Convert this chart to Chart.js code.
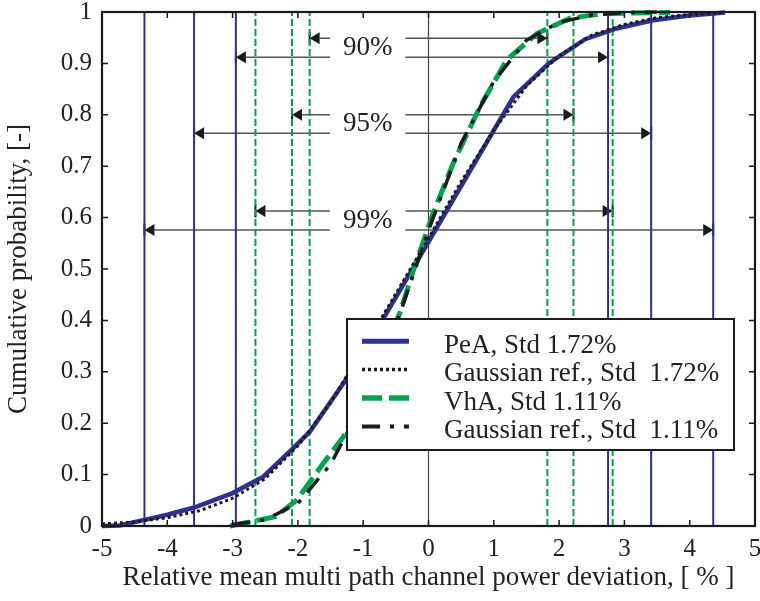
<!DOCTYPE html>
<html>
<head>
<meta charset="utf-8">
<script src="https://cdn.jsdelivr.net/npm/chart.js@4.4.0/dist/chart.umd.min.js"></script>
<style>
html, body { margin: 0; padding: 0; background: #fff; }
canvas { display: block; }
</style>
</head>
<body>
<canvas id="cdfChart" width="760" height="601"></canvas>
<script>
// tick values
var xTicks = [-5, -4, -3, -2, -1, 0, 1, 2, 3, 4, 5];
var yTicks = [0, 0.1, 0.2, 0.3, 0.4, 0.5, 0.6, 0.7, 0.8, 0.9, 1];

// PeA, measured cdf
var peaX = [-5, -4.73, -4.35, -4.0, -3.59, -3.0, -2.53, -2.1, -1.82, -1.3, -0.69, 0, 1.3, 1.84, 2.4, 2.88, 3.44, 4.0, 4.54];
var peaY = [0, 0.001, 0.012, 0.022, 0.036, 0.064, 0.096, 0.148, 0.183, 0.278, 0.404, 0.553, 0.835, 0.9, 0.947, 0.968, 0.984, 0.993, 0.999];

// Gaussian reference, std 1.72
var gaussPeaX = [-5, -4.5, -4, -3.5, -3, -2.5, -2, -1.5, -1, -0.5, 0, 0.5, 1, 1.5, 2, 2.5, 3, 3.5, 4, 4.54];
var gaussPeaY = [0.004, 0.008, 0.016, 0.03, 0.054, 0.092, 0.156, 0.24, 0.345, 0.452, 0.56, 0.67, 0.77, 0.856, 0.915, 0.955, 0.976, 0.989, 0.995, 0.999];

// VhA, measured cdf
var vhaX = [-3.04, -2.65, -2.35, -2.02, -1.61, -1.3, -0.44, -0.23, 0.07, 0.38, 0.79, 1.2, 1.66, 2.17, 2.68, 3.7];
var vhaY = [0, 0.01, 0.018, 0.05, 0.122, 0.174, 0.414, 0.498, 0.608, 0.706, 0.816, 0.907, 0.958, 0.988, 0.997, 0.999];

// Gaussian reference, std 1.11
var gaussVhaX = [-3.0, -2.5, -2.0, -1.5, -1.0, -0.5, 0, 0.5, 1.0, 1.5, 2.0, 2.5, 3.0, 3.5];
var gaussVhaY = [0.003, 0.012, 0.044, 0.12, 0.24, 0.39, 0.575, 0.745, 0.865, 0.945, 0.98, 0.994, 0.999, 1.0];

// confidence interval limits
var intervalLabels = ['90%', '95%', '99%'];
var vhaLow = [-1.82, -2.09, -2.65];
var vhaHigh = [1.82, 2.22, 2.82];
var peaLow = [-2.95, -3.59, -4.35];
var peaHigh = [2.75, 3.41, 4.36];
var vhaArrowY = [0.949, 0.800, 0.613];
var peaArrowY = [0.912, 0.764, 0.576];
var labelX = -0.93;

var legendLabels = ['PeA, Std 1.72%', 'Gaussian ref., Std  1.72%', 'VhA, Std 1.11%', 'Gaussian ref., Std  1.11%'];

var BLUE = '#2e3192';
var GREEN = '#00a34e';
var BLACK = '#1c1c1c';
var SERIF = "'Liberation Serif', 'DejaVu Serif', serif";

function pts(xs, ys) {
    return xs.map(function (x, i) { return { x: x, y: ys[i] }; });
}

function vline(x, color, dash) {
    return {
        data: [{ x: x, y: 0 }, { x: x, y: 1 }],
        borderColor: color,
        borderWidth: 2,
        borderDash: dash,
        showLine: true,
        pointRadius: 0,
        order: 10
    };
}

var curves = [
    { label: legendLabels[0], data: pts(peaX, peaY), borderColor: BLUE, borderWidth: 4.5, borderDash: [], order: 3 },
    { label: legendLabels[1], data: pts(gaussPeaX, gaussPeaY), borderColor: BLACK, borderWidth: 3, borderDash: [3, 3], order: 1 },
    { label: legendLabels[2], data: pts(vhaX, vhaY), borderColor: GREEN, borderWidth: 5, borderDash: [20, 7], order: 2 },
    { label: legendLabels[3], data: pts(gaussVhaX, gaussVhaY), borderColor: BLACK, borderWidth: 3.5, borderDash: [18, 10, 4, 10], order: 0 }
];
curves.forEach(function (c) {
    c.showLine = true;
    c.pointRadius = 0;
    c.tension = 0;
    c.clip = false;
    c.borderCapStyle = 'butt';
});

var datasets = curves.slice();
peaLow.concat(peaHigh).forEach(function (v) { datasets.push(vline(v, BLUE, [])); });
vhaLow.concat(vhaHigh).forEach(function (v) { datasets.push(vline(v, GREEN, [7, 3])); });

function arrowHead(ctx, x, y, dir) {
    ctx.fillStyle = '#1a1a1a';
    ctx.beginPath();
    ctx.moveTo(x, y);
    ctx.lineTo(x - dir * 10, y - 6);
    ctx.lineTo(x - dir * 10, y + 6);
    ctx.closePath();
    ctx.fill();
    ctx.fillRect(x - 1, y - 6.5, 2, 13);
}

var decor = {
    id: 'decor',
    beforeDatasetsDraw: function (chart) {
        var ctx = chart.ctx, xs = chart.scales.x, ys = chart.scales.y, a = chart.chartArea;
        ctx.save();
        // zero line
        ctx.strokeStyle = '#444';
        ctx.lineWidth = 1.2;
        ctx.beginPath();
        ctx.moveTo(xs.getPixelForValue(0), a.top);
        ctx.lineTo(xs.getPixelForValue(0), a.bottom);
        ctx.stroke();

        ctx.font = '27px ' + SERIF;
        ctx.textAlign = 'center';
        ctx.textBaseline = 'middle';
        var lx = xs.getPixelForValue(labelX);
        intervalLabels.forEach(function (lbl, i) {
            var half = ctx.measureText(lbl).width / 2 + 13;
            var rows = [[vhaLow[i], vhaHigh[i], vhaArrowY[i]], [peaLow[i], peaHigh[i], peaArrowY[i]]];
            rows.forEach(function (r) {
                var x1 = xs.getPixelForValue(r[0]), x2 = xs.getPixelForValue(r[1]), y = ys.getPixelForValue(r[2]);
                ctx.strokeStyle = '#555';
                ctx.lineWidth = 1.5;
                ctx.beginPath();
                ctx.moveTo(x1 + 10, y); ctx.lineTo(lx - half, y);
                ctx.moveTo(lx + half, y); ctx.lineTo(x2 - 10, y);
                ctx.stroke();
                arrowHead(ctx, x1, y, -1);
                arrowHead(ctx, x2, y, 1);
            });
            var ym = ys.getPixelForValue((vhaArrowY[i] + peaArrowY[i]) / 2);
            ctx.fillStyle = '#222';
            ctx.fillText(lbl, lx, ym);
        });
        ctx.restore();
    },
    afterDatasetsDraw: function (chart) {
        var ctx = chart.ctx;
        // legend box
        var bx = 347, by = 319, bw = 387, bh = 131;
        ctx.save();
        ctx.fillStyle = '#fff';
        ctx.fillRect(bx, by, bw, bh);
        ctx.strokeStyle = '#1a1a1a';
        ctx.lineWidth = 2;
        ctx.strokeRect(bx, by, bw, bh);
        ctx.font = '27px ' + SERIF;
        ctx.textAlign = 'left';
        ctx.textBaseline = 'alphabetic';
        curves.forEach(function (c, i) {
            var base = 352.7 + i * 28.4;
            ctx.strokeStyle = c.borderColor;
            ctx.lineWidth = c.borderWidth + 0.5;
            ctx.setLineDash(c.borderDash);
            ctx.beginPath();
            ctx.moveTo(362, base - 11.5);
            ctx.lineTo(409, base - 11.5);
            ctx.stroke();
            ctx.setLineDash([]);
            ctx.fillStyle = '#222';
            ctx.fillText(legendLabels[i], 444, base);
        });
        ctx.restore();
    },
    afterDraw: function (chart) {
        var ctx = chart.ctx, xs = chart.scales.x, ys = chart.scales.y, a = chart.chartArea;
        ctx.save();
        ctx.strokeStyle = '#1a1a1a';
        ctx.lineWidth = 1.5;
        ctx.beginPath();
        xTicks.forEach(function (v) {
            var px = xs.getPixelForValue(v);
            ctx.moveTo(px, a.bottom); ctx.lineTo(px, a.bottom - 6);
            ctx.moveTo(px, a.top); ctx.lineTo(px, a.top + 6);
        });
        yTicks.forEach(function (v) {
            var py = ys.getPixelForValue(v);
            ctx.moveTo(a.left, py); ctx.lineTo(a.left + 6, py);
            ctx.moveTo(a.right, py); ctx.lineTo(a.right - 6, py);
        });
        ctx.stroke();
        ctx.lineWidth = 2.2;
        ctx.strokeRect(a.left, a.top, a.right - a.left, a.bottom - a.top);
        ctx.restore();
    }
};

var ctx = document.getElementById('cdfChart').getContext('2d');
var myChart = new Chart(ctx, {
    type: 'scatter',
    data: { datasets: datasets },
    options: {
        responsive: false,
        animation: false,
        devicePixelRatio: 1,
        layout: { padding: { left: 0, right: 5, top: 12, bottom: 0 } },
        plugins: {
            legend: { display: false },
            tooltip: { enabled: false }
        },
        scales: {
            x: {
                type: 'linear',
                min: -5,
                max: 5,
                afterBuildTicks: function (s) { s.ticks = xTicks.map(function (v) { return { value: v }; }); },
                afterFit: function (s) { s.height = 75; s.paddingLeft = 0; s.paddingRight = 0; },
                grid: { display: true, drawOnChartArea: false, drawTicks: false },
                border: { display: false },
                ticks: {
                    color: '#222',
                    font: { family: SERIF, size: 25 },
                    padding: 8,
                    maxRotation: 0,
                    callback: function (v) { return String(v); }
                },
                title: {
                    display: true,
                    text: 'Relative mean multi path channel power deviation, [ % ]',
                    color: '#222',
                    font: { family: SERIF, size: 27 },
                    padding: { top: 0, bottom: 7 }
                }
            },
            y: {
                type: 'linear',
                min: 0,
                max: 1,
                afterBuildTicks: function (s) { s.ticks = yTicks.map(function (v) { return { value: v }; }); },
                afterFit: function (s) { s.width = 102; s.paddingTop = 0; s.paddingBottom = 0; },
                grid: { display: true, drawOnChartArea: false, drawTicks: false },
                border: { display: false },
                ticks: {
                    color: '#222',
                    font: { family: SERIF, size: 25 },
                    padding: 10,
                    callback: function (v) { return String(v); }
                },
                title: {
                    display: true,
                    text: 'Cumulative probability, [-]',
                    color: '#222',
                    font: { family: SERIF, size: 27 },
                    padding: { top: 3, bottom: 0 }
                }
            }
        }
    },
    plugins: [decor]
});
</script>
</body>
</html>
